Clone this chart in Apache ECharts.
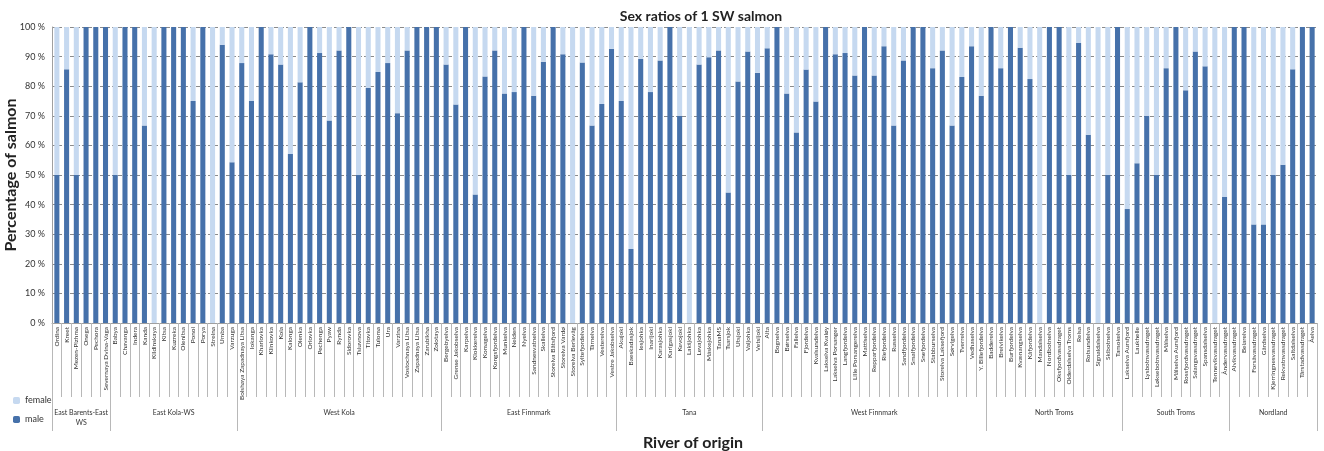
<!DOCTYPE html>
<html><head><meta charset="utf-8">
<script src="https://cdn.jsdelivr.net/npm/echarts@6/dist/echarts.min.js"></script>
<style>html,body{margin:0;padding:0;background:#fff}#c{width:1324px;height:451px}</style>
</head><body><div id="c"></div>
<script>
var rivers = [
 "Ordina","Kreet","Mezen-Pizhma","Onega","Pechora","Severnaya Dvina-Vaga",
 "Babya","Chavanga","Indera","Kanda","Kildinskaya","Kitsa","Kuzreka","Olenitsa","Ponoi","Porya","Strelna","Umba","Varzuga",
 "Bolshaya Zapadnaya Litsa","Iokanga","Kharlovka","Klinkovka","Kola","Kalonga","Olenka","Orlovka","Pechenga","Pyaw","Rynda","Sidorovka","Tsiuvnova","Titovka","Tuloma","Ura","Varzina","Vostochnaya Litsa","Zapadnaya Litsa","Zarubikha","Zolotaya",
 "Bergebyelva","Grense Jakobselva","Karpelva","Klokkerelva","Komagelva","Kongsfjordelva","Munkelva","Neiden","Nyelva","Sandnesvatnelva","Skallelva","Storelva Bätsfjord","Storelva Vardø","Storelva Berlevåg","Syltefjordelva","Tårnelva","Vesterelva","Vestre Jakobselva",
 "Akujoki","Baeskadasjok","Iesjohka","Inarijoki","Karasjohka","Karigasjoki","Kevojoki","Lakšjohka","Levajohka","Máskejohka","TanaMS","Tsarsjok","Utsjoki","Valjohka","Vetsijoki",
 "Alta","Bognelva","Børselva","Fallelva","Fjordelva","Kvalsundelva","Lakselva Kvaløy","Lakselva Porsanger","Langfjordelva","Lille Porsangerelva","Mattiselva","Repparfjordelva","Riefjordelva","Russelva","Sandfjordelva","Smalfjordelva","Snefjordelva","Stabburselva","Storelva Laksefjord","Sørvigelva","Tverrelva","Vedhaselva","Y. Billefjordelva",
 "Badderelva","Breivikelva","Burfjordelva","Kvænangselva","Kåfjordelva","Mandalselva","Nordbotnelva","Oksfjordvassdraget","Olderdalselva Troms","Reisa","Rotsundelva","Signaldalselva","Skibotnelva","Tamokelva",
 "Lakselva Aursfjord","Laukhelle","Lysbotnvassdraget","Løksebotnvassdraget","Målselva","Målselva Aursfjord","Rossfjordvassdraget","Salangsvassdraget","Spansdalselva","Tennevikvassdraget","Åndervassdraget",
 "Alvikvassdraget","Beiarelva","Forsåvassdraget","Gårdselva","Kjerringnesvassdraget","Rekvatnvassdraget","Saltdalselva","Tårstadvassdraget","Åelva"
];
var male = [
 50,85.7,50,100,100,100,
 50,100,100,66.7,0,100,100,100,75,100,0,94,54.3,
 87.8,75,100,90.8,87.3,57.1,81.3,100,91.2,68.4,92.1,100,50,79.4,84.8,87.8,70.9,92.1,100,100,100,
 87.3,73.8,100,43.4,83.3,92.1,77.5,78,100,76.8,88.3,100,90.8,0,88,66.7,74,92.6,
 75,25,89.2,78,88.7,100,70,0,87.3,89.8,92.1,44.1,81.6,91.7,84.5,
 92.8,100,77.5,64.4,85.6,74.8,100,90.8,91.2,83.6,100,83.6,93.5,66.7,88.7,100,100,86.1,92.1,66.7,83.1,93.5,76.8,
 100,86.1,100,93,82.4,0,100,100,50,94.6,63.6,0,50,100,
 38.5,54,70,50,86.1,100,78.6,91.7,86.7,0,42.6,
 100,100,33.3,33.3,50,53.5,85.7,100,100
];
var female = [
 50,14.3,50,0,0,0,
 50,0,0,33.3,100,0,0,0,25,0,100,6,45.7,
 12.2,25,0,9.2,12.7,42.9,18.7,0,8.8,31.6,7.9,0,50,20.6,15.2,12.2,29.1,7.9,0,0,0,
 12.7,26.2,0,56.6,16.7,7.9,22.5,22,0,23.2,11.7,0,9.2,100,12,33.3,26,7.4,
 25,75,10.8,22,11.3,0,30,100,12.7,10.2,7.9,55.9,18.4,8.3,15.5,
 7.2,0,22.5,35.6,14.4,25.2,0,9.2,8.8,16.4,0,16.4,6.5,33.3,11.3,0,0,13.9,7.9,33.3,16.9,6.5,23.2,
 0,13.9,0,7,17.6,100,0,0,50,5.4,36.4,100,50,0,
 61.5,46,30,50,13.9,0,21.4,8.3,13.3,100,57.4,
 0,0,66.7,66.7,50,46.5,14.3,0,0
];
var regions = ["East Barents-East\nWS","East Kola-WS","West Kola","East Finnmark","Tana","West Finnmark","North Troms","South Troms","Nordland"];
var regionSizes = [6,13,21,18,15,23,14,11,9];

var bounds = [0], centers = [];
regionSizes.forEach(function(n){ var s = bounds[bounds.length-1]; centers.push(s + n/2); bounds.push(s + n); });

var chart = echarts.init(document.getElementById('c'), null, {renderer:'canvas'});
var font = 'Lato, "Open Sans", "Liberation Sans", sans-serif';
chart.setOption({
  animation:false,
  textStyle:{fontFamily:font},
  title:[
    {text:'Sex ratios of 1 SW salmon', left:696, textAlign:'center', top:4, textStyle:{fontSize:14, fontWeight:'bold', color:'#222', fontFamily:font}},
    {text:'River of origin', left:688, textAlign:'center', top:430, textStyle:{fontSize:16, fontWeight:'bold', color:'#222', fontFamily:font}}
  ],
  legend:{
    data:['female','male'], orient:'vertical', left:8, top:391, itemWidth:7, itemHeight:7, itemGap:10,
    textStyle:{fontSize:9, color:'#333', fontFamily:font}
  },
  grid:{left:52, right:7, top:27, bottom:128, containLabel:false, outerBoundsMode:'none'},
  xAxis:[
    {type:'category', data:rivers, position:'bottom',
     axisLine:{show:true, lineStyle:{color:'#a0a0a0'}},
     axisTick:{show:true, interval:0, length:74, lineStyle:{color:'#b8b8b8'}},
     axisLabel:{interval:0, rotate:90, fontSize:6.5, color:'#333', margin:4, fontFamily:font},
     splitLine:{show:false}},
    {type:'value', min:0, max:rivers.length, position:'bottom', offset:74,
     axisLine:{show:false},
     axisTick:{show:true, length:34, customValues:bounds, lineStyle:{color:'#b8b8b8'}},
     axisLabel:{customValues:centers, margin:11, fontSize:7, color:'#333', lineHeight:10, fontFamily:font,
       formatter:function(v){ var i = centers.indexOf(v); return i>=0 ? regions[i] : ''; }},
     splitLine:{show:false}}
  ],
  yAxis:{type:'value', min:0, max:100, interval:10,
    name:'Percentage of salmon', nameLocation:'middle', nameGap:33, nameMoveOverlap:false,
    nameTextStyle:{fontSize:16, fontWeight:'bold', color:'#222', fontFamily:font},
    axisLine:{show:true, lineStyle:{color:'#a0a0a0'}},
    axisTick:{show:false},
    axisLabel:{fontSize:9, color:'#333', margin:7, formatter:function(v){return v+' %';}},
    splitLine:{show:true, lineStyle:{color:'#8a8a8a', type:'dashed', width:1}}
  },
  series:[
    {name:'male', type:'bar', stack:'s', data:male, barWidth:'52%', itemStyle:{color:'#4671AA'}},
    {name:'female', type:'bar', stack:'s', data:female, barWidth:'52%', itemStyle:{color:'#C6D9F0'}}
  ]
});
</script></body></html>
